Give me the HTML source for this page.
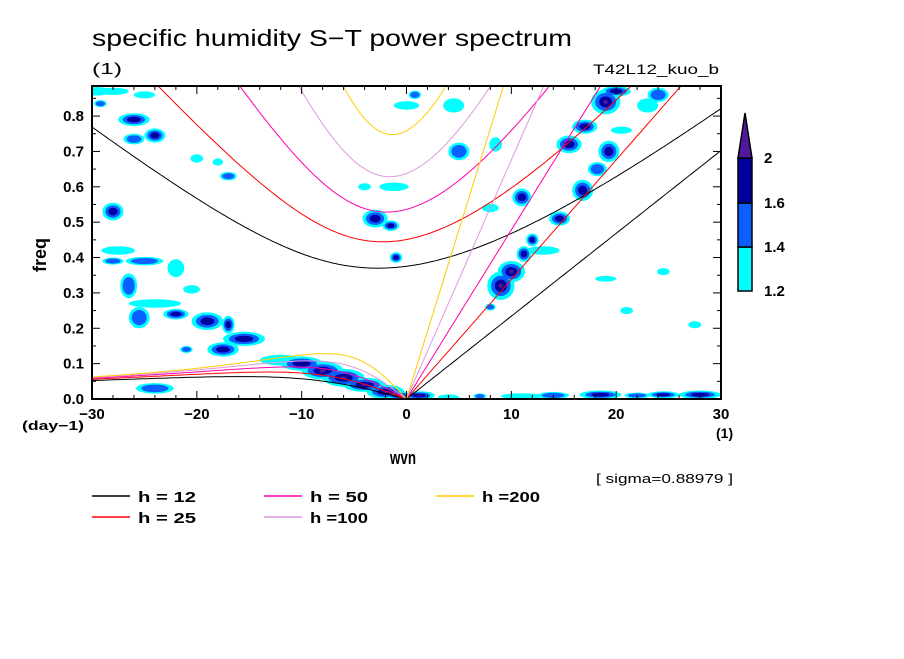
<!DOCTYPE html>
<html><head><meta charset="utf-8"><style>
body{margin:0;background:#fff;}
svg text{font-family:"Liberation Sans",sans-serif;}
</style></head><body>
<svg id="s" width="904" height="654" xmlns="http://www.w3.org/2000/svg">
<text x="92" y="46" font-size="23" textLength="480" lengthAdjust="spacingAndGlyphs">specific humidity S−T power spectrum</text>
<text x="92" y="74" font-size="16" textLength="30" lengthAdjust="spacingAndGlyphs">(1)</text>
<text x="593" y="74" font-size="14" textLength="126" lengthAdjust="spacingAndGlyphs">T42L12_kuo_b</text>
<g id="blobs"></g>
<g id="curves"></g>
<g id="axes"></g>
<g id="cbar"></g>
<text x="46" y="255" font-size="18" font-weight="bold" transform="rotate(-90 46 255)" text-anchor="middle">freq</text>
<text x="22" y="430" font-size="13" font-weight="bold" textLength="62" lengthAdjust="spacingAndGlyphs">(day−1)</text>
<text x="390" y="464" font-size="18" font-weight="bold" textLength="26" lengthAdjust="spacingAndGlyphs">wvn</text>
<text x="716" y="438" font-size="14" font-weight="bold">(1)</text>
<text x="596" y="483" font-size="13" textLength="137" lengthAdjust="spacingAndGlyphs">[ sigma=0.88979 ]</text>
<g id="legend"></g>
</svg>
<script>
const depths=[12,25,50,100,200];
const depthColors=['#000000','#ff0000','#ff00aa','#dd99dd','#ffcc00'];
const levels=[1.2,1.4,1.6,2];
const levelColors=['#00ffff','#0a5fff','#0000a0','#50189c'];
const xTicks=[-30,-20,-10,0,10,20,30];
const yTicks=[0,0.1,0.2,0.3,0.4,0.5,0.6,0.7,0.8];
// blobs: [wvn, freq, half-width(wvn), half-height(freq), number of levels]
const blobs=[
[-29.5,0.87,1.2,0.012,1],[-28,0.87,1.5,0.01,1],[-25,0.86,1,0.01,1],[-29.2,0.835,0.6,0.01,2],
[-26,0.79,1.5,0.018,3],[-24,0.745,1,0.02,3],[-26,0.735,1,0.015,2],[-28,0.53,1,0.025,3],
[-20,0.68,0.6,0.012,1],[-18,0.67,0.5,0.01,1],[-17,0.63,0.8,0.012,2],[-27.5,0.42,1.6,0.012,1],
[-28,0.39,1,0.01,2],[-25,0.39,1.8,0.012,2],[-22,0.37,0.8,0.025,1],[-26.5,0.32,0.8,0.035,2],
[-20.5,0.31,0.8,0.012,1],[-25.5,0.23,1,0.03,2],[-24,0.27,2.5,0.012,1],[-22,0.24,1.2,0.015,3],
[-19,0.22,1.5,0.025,3],[-17,0.21,0.6,0.025,3],[-15.5,0.17,2,0.02,3],[-17.5,0.14,1.5,0.02,3],
[-21,0.14,0.6,0.01,2],[-24,0.03,1.8,0.015,2],[-12,0.11,2,0.015,1],[-10,0.1,2,0.02,3],
[-8,0.08,2,0.025,4],[-6,0.06,2,0.025,4],[-4,0.04,2,0.02,4],[-2,0.02,1.8,0.02,4],[-0.7,0.01,1.2,0.012,4],
[-3,0.51,1.2,0.025,3],[-1.5,0.49,0.8,0.015,3],[-1,0.4,0.6,0.015,3],[-1.2,0.6,1.4,0.012,1],
[0,0.83,1.2,0.012,1],[0.8,0.86,0.6,0.012,2],[-4,0.6,0.6,0.01,1],
[1.2,0.01,1.5,0.012,4],[4,0.005,1,0.008,1],[7,0.008,0.6,0.008,2],[11,0.008,2,0.008,1],[14,0.01,1.5,0.01,2],
[18.5,0.012,2,0.012,3],[22,0.01,1.2,0.008,2],[24.5,0.012,1.5,0.01,3],[28,0.012,2,0.012,3],
[4.5,0.83,1,0.02,1],[8.5,0.72,0.6,0.02,1],[5,0.7,1,0.025,2],[11,0.57,0.9,0.025,3],[8,0.54,0.8,0.012,1],
[9,0.32,1.3,0.04,4],[10,0.36,1.3,0.03,4],[11.2,0.41,0.7,0.022,3],[12,0.45,0.6,0.018,3],
[13,0.42,1.6,0.012,1],[14.6,0.51,1,0.02,3],[16.8,0.59,1,0.03,3],[18.2,0.65,0.9,0.02,2],
[19.3,0.7,1,0.03,3],[15.5,0.72,1.2,0.025,3],[17,0.77,1.2,0.02,3],[19,0.84,1.4,0.035,4],
[20,0.87,1.4,0.015,3],[23,0.83,1,0.02,1],[24,0.86,1,0.02,2],[20.5,0.76,1,0.01,1],
[8,0.26,0.5,0.01,2],[19,0.34,1,0.008,1],[21,0.25,0.6,0.01,1],[27.5,0.21,0.6,0.01,1],[24.5,0.36,0.6,0.01,1]
];
const NS='http://www.w3.org/2000/svg';
const X0=92,X1=721,Y0=399,Y1=86;
const xs=k=>X0+(k+30)/60*(X1-X0);
const ys=f=>Y0-f/0.885*(Y0-Y1);
function mk(tag,attrs,parent){const e=document.createElementNS(NS,tag);for(const a in attrs)e.setAttribute(a,attrs[a]);parent.appendChild(e);return e;}
const svg=document.getElementById('s');
const defs=mk('defs',{},svg);
const cp=mk('clipPath',{id:'clip'},defs);
mk('rect',{x:X0,y:Y1,width:X1-X0,height:Y0-Y1},cp);
const gb=document.getElementById('blobs');gb.setAttribute('clip-path','url(#clip)');
for(let L=0;L<4;L++){
 blobs.forEach(b=>{
  if(b[4]>L){
   const sc=1-L*0.28;
   const e=mk('ellipse',{cx:xs(b[0]),cy:ys(b[1]),rx:b[2]*10.48*sc,ry:b[3]*354*sc,fill:levelColors[L]},gb);
   
   
  }
 });
}
const g=9.81,a=6.371e6,beta=2*7.292e-5/a;
function roots(kw,c,n){
 const k=kw/a;const p=-c*c*(k*k+(2*n+1)*beta/c),q=-k*beta*c*c;
 const f=w=>w*w*w+p*w+q;
 const res=[];const N=4000,wmax=3e-4;let prev=f(0),w0=0;
 for(let i=1;i<=N;i++){const w=i*wmax/N,v=f(w);if(prev*v<=0){let lo=w0,hi=w;for(let j=0;j<50;j++){const m=(lo+hi)/2;if(f(lo)*f(m)<=0)hi=m;else lo=m;}res.push((lo+hi)/2);}prev=v;w0=w;}
 return res;
}
const cpd=w=>w*86400/(2*Math.PI);
const gc=document.getElementById('curves');gc.setAttribute('clip-path','url(#clip)');
depths.forEach((h,i)=>{
 const c=Math.sqrt(g*h);
 let kel='',eig='',er='';
 for(let k=0;k<=30;k+=0.25){const f=cpd(k/a*c);kel+=(kel?'L':'M')+xs(k).toFixed(1)+','+ys(f).toFixed(1);}
 for(let k=-30;k<=30;k+=0.25){const r=roots(k,c,1);if(r.length){const f=cpd(Math.max(...r));eig+=(eig?'L':'M')+xs(k).toFixed(1)+','+ys(f).toFixed(1);}}
 for(let k=-30;k<=0;k+=0.25){let f=0;if(k<0){const r=roots(k,c,1);f=cpd(Math.min(...r));}er+=(er?'L':'M')+xs(k).toFixed(1)+','+ys(f).toFixed(1);}
 [['kelvin',kel],['eig',eig],['er',er]].forEach(([nm,d])=>{
  const p=mk('path',{d:d,fill:'none',stroke:depthColors[i],'stroke-width':1},gc);
  
  
 });
});
const ga=document.getElementById('axes');
mk('rect',{x:X0,y:Y1,width:X1-X0,height:Y0-Y1,fill:'none',stroke:'#000','stroke-width':2},ga);
for(let k=-30;k<=30;k+=2){const L=(k%10===0)?8:4;
 mk('line',{x1:xs(k),x2:xs(k),y1:Y0,y2:Y0-L,stroke:'#000'},ga);
 mk('line',{x1:xs(k),x2:xs(k),y1:Y1,y2:Y1+L,stroke:'#000'},ga);}
for(let f=0;f<=0.88;f+=0.05){const L=(Math.round(f*100)%10===0)?8:4;
 mk('line',{x1:X0,x2:X0+L,y1:ys(f),y2:ys(f),stroke:'#000'},ga);
 mk('line',{x1:X1,x2:X1-L,y1:ys(f),y2:ys(f),stroke:'#000'},ga);}
xTicks.forEach(t=>{const e=mk('text',{x:xs(t),y:419,'font-size':15,'font-weight':'bold','text-anchor':'middle'},ga);e.textContent=(t<0?'−'+(-t):t);
 });
yTicks.forEach(t=>{const e=mk('text',{x:84,y:ys(t)+5,'font-size':15,'font-weight':'bold','text-anchor':'end'},ga);e.textContent=t.toFixed(1);
 });
const gcb=document.getElementById('cbar');
const cbY=[291,247,203,158];
for(let i=0;i<3;i++){const r=mk('rect',{x:738,y:cbY[i+1],width:14,height:cbY[i]-cbY[i+1],fill:levelColors[i],stroke:'#000','stroke-width':1.5},gcb);
 }
const tri=mk('polygon',{points:'738,158 752,158 745,113',fill:levelColors[3],stroke:'#000','stroke-width':1.5},gcb);

levels.forEach((l,i)=>{const y=i<3?cbY[i]:158;const e=mk('text',{x:764,y:y+5,'font-size':15,'font-weight':'bold'},gcb);e.textContent=l;
 });
const gl=document.getElementById('legend');
const lx=[92,92,264,264,436],ly=[496,517,496,517,496];
depths.forEach((h,i)=>{
 mk('line',{x1:lx[i],x2:lx[i]+38,y1:ly[i],y2:ly[i],stroke:depthColors[i],'stroke-width':1.5},gl);
 const t=mk('text',{x:lx[i]+46,y:ly[i]+6,'font-size':15,'font-weight':'bold',textLength:58,lengthAdjust:'spacingAndGlyphs'},gl);
 t.textContent=h<100?'h = '+h:'h ='+h;
 
});
</script>
</body></html>
